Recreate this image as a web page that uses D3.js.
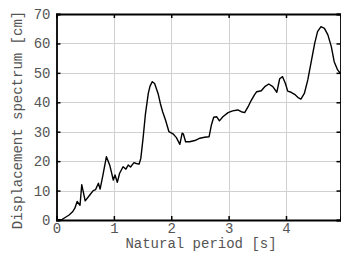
<!DOCTYPE html>
<html>
<head>
<meta charset="utf-8">
<script src="https://cdn.jsdelivr.net/npm/d3@7"></script>
<style>
  body { margin: 0; background: #fff; }
  text { font-family: "Liberation Mono", "DejaVu Sans Mono", monospace; fill: #555; }
</style>
</head>
<body>
<svg id="chart" width="341" height="258"></svg>
<script>
// natural period [s]
const periods = [0, 0.1, 0.13, 0.22, 0.28, 0.32, 0.36, 0.41, 0.44, 0.5,
  0.58, 0.64, 0.68, 0.73, 0.76, 0.81, 0.87, 0.93, 0.99, 1.02,
  1.06, 1.10, 1.16, 1.21, 1.25, 1.29, 1.35, 1.39, 1.44, 1.47,
  1.51, 1.55, 1.60, 1.63, 1.67, 1.71, 1.77, 1.81, 1.85, 1.90, 1.96,
  2.03, 2.09, 2.15, 2.19, 2.21, 2.25, 2.32, 2.41, 2.50, 2.58,
  2.66, 2.70, 2.74, 2.79, 2.84, 2.90, 2.99, 3.07, 3.16, 3.22,
  3.28, 3.34, 3.39, 3.45, 3.49, 3.57, 3.63, 3.70, 3.77, 3.84,
  3.89, 3.94, 3.99, 4.03, 4.09, 4.15, 4.21, 4.26, 4.32, 4.38,
  4.44, 4.50, 4.55, 4.61, 4.67, 4.73, 4.79, 4.84, 4.90, 4.95];
// displacement spectrum [cm]
const displacement = [0, 0.2, 0.6, 1.7, 2.8, 4, 6.3, 5, 12, 6.5,
  8.5, 10, 10.3, 12.5, 10.5, 15.3, 21.5, 18.5, 13.6, 15.3,
  12.8, 15.9, 18.1, 17.3, 18.7, 18, 19.5, 19.2, 19, 21,
  28, 36, 43, 45.5, 47, 46.4, 43, 39.6, 36.8, 34, 30,
  29.3, 28, 25.7, 29.5, 29.3, 26.6, 26.6, 27, 27.8, 28.1,
  28.3, 32.3, 34.9, 35.1, 33.7, 35.1, 36.5, 37.1, 37.4, 36.8,
  36.5, 38.5, 40.5, 42.5, 43.6, 43.9, 45.3, 46.2, 45.3, 43.4,
  48, 48.7, 46.4, 43.8, 43.4, 42.7, 41.6, 41.1, 43, 47.6,
  53.8, 60, 64, 65.7, 65.1, 62.9, 58.9, 53.8, 51, 49.8];
const xTicks = [0, 1, 2, 3, 4];
const yTicks = [0, 10, 20, 30, 40, 50, 60, 70];

const svg = d3.select("#chart");
const mLeft = 56.5, mRight = 340.5, mTop = 14, mBottom = 220;

const x = d3.scaleLinear().domain([0, 4.95]).range([mLeft, mRight]);
const y = d3.scaleLinear().domain([0, 70]).range([mBottom, mTop]);

// grid
svg.append("g")
    .attr("stroke", "#d0d0d0")
    .attr("stroke-width", 1)
    .call(g => g.selectAll("line.gx").data(xTicks.filter(d => d > 0)).join("line")
        .attr("x1", d => Math.round(x(d)) + 0.5).attr("x2", d => Math.round(x(d)) + 0.5)
        .attr("y1", mTop).attr("y2", mBottom))
    .call(g => g.selectAll("line.gy").data(yTicks.filter(d => d > 0 && d < 70)).join("line")
        .attr("y1", d => Math.round(y(d)) + 0.5).attr("y2", d => Math.round(y(d)) + 0.5)
        .attr("x1", mLeft).attr("x2", mRight));

// curve
const line = d3.line()
    .x(i => x(periods[i]))
    .y(i => y(displacement[i]));

svg.append("path")
    .datum(d3.range(periods.length))
    .attr("fill", "none")
    .attr("stroke", "#000")
    .attr("stroke-width", 1.4)
    .attr("stroke-linejoin", "round")
    .attr("d", line);

// axes, ticks pointing inward
const tickLen = 4;
const xb = svg.append("g").attr("transform", `translate(0,${mBottom})`)
    .call(d3.axisBottom(x).tickValues(xTicks).tickSize(-tickLen).tickPadding(3).tickFormat(d3.format("d")));
const xt = svg.append("g").attr("transform", `translate(0,${mTop})`)
    .call(d3.axisTop(x).tickValues(xTicks).tickSize(-tickLen).tickFormat(""));
const yl = svg.append("g").attr("transform", `translate(${mLeft},0)`)
    .call(d3.axisLeft(y).tickValues(yTicks).tickSize(-tickLen).tickPadding(6).tickFormat(d3.format("d")));
const yr = svg.append("g").attr("transform", `translate(${mRight},0)`)
    .call(d3.axisRight(y).tickValues(yTicks).tickSize(-tickLen).tickFormat(""));

[xb, xt, yl, yr].forEach(a => {
    a.select(".domain").attr("stroke", "#000").attr("stroke-width", 1.8);
    a.selectAll(".tick line").attr("stroke", "#000").attr("stroke-width", 1.5);
    a.selectAll(".tick text").attr("font-size", 14).attr("fill", "#555")
        .style("font-family", "'Liberation Mono', monospace");
});

// axis titles
svg.append("text")
    .attr("x", 201)
    .attr("y", 248)
    .attr("text-anchor", "middle")
    .attr("font-size", 14)
    .text("Natural period [s]");

svg.append("text")
    .attr("transform", "translate(22,120) rotate(-90)")
    .attr("text-anchor", "middle")
    .attr("font-size", 14)
    .text("Displacement spectrum [cm]");
</script>
</body>
</html>
